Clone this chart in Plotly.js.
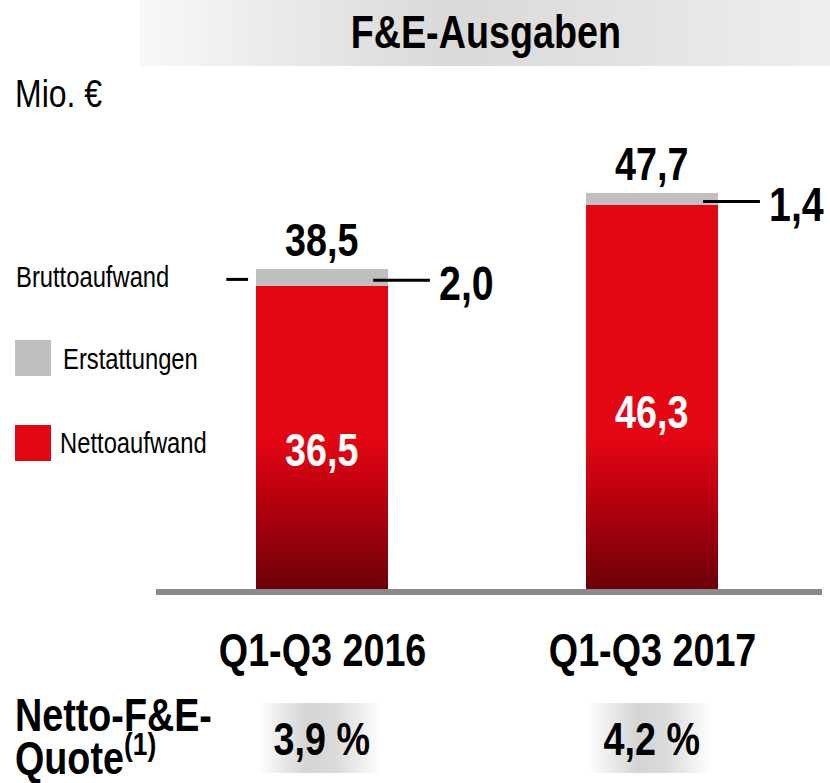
<!DOCTYPE html>
<html>
<head>
<meta charset="utf-8">
<script src="https://cdn.plot.ly/plotly-3.0.1.min.js"></script>
<style>
  html, body { margin: 0; padding: 0; background: #fff; }
  #chart { width: 830px; height: 783px; }
</style>
</head>
<body>
<div id="chart"></div>
<script>
// ---- data ----
const categories = ['Q1-Q3 2016', 'Q1-Q3 2017'];
const nettoaufwand = [36.5, 46.3];
const erstattungen = [2.0, 1.4];
const bruttoaufwand = [38.5, 47.7];
const quoteLabels = ['3,9 %', '4,2 %'];
const legendNames = ['Erstattungen', 'Nettoaufwand'];

const W = 830, H = 783;
const FONT = 'Liberation Sans, Arial, sans-serif';
const NARROW = 0.82;
const RED = '#e30613', GRAY = '#bfbfbf';
const fmt = v => v.toFixed(1).replace('.', ',');
const px = x => x / W;
const py = y => 1 - y / H;
const xIdx = categories.map((c, i) => i);

const traces = [
  { type: 'bar', x: xIdx, y: nettoaufwand, name: legendNames[1], width: 0.4,
    marker: { color: RED }, hoverinfo: 'none' },
  { type: 'bar', x: xIdx, y: erstattungen, name: legendNames[0], width: 0.4,
    marker: { color: GRAY }, hoverinfo: 'none' }
];

const annotations = [];
const shapes = [];
const base = { showarrow: false, xanchor: 'center', yanchor: 'middle',
  font: { family: FONT, size: 46, color: '#000' } };

// title band + title
shapes.push({ type: 'rect', xref: 'paper', yref: 'paper', x0: px(140), x1: 1, y0: py(66), y1: 1,
  line: { width: 0 }, fillcolor: '#dedede', layer: 'below', name: 'band' });
annotations.push({ ...base, xref: 'paper', yref: 'paper', x: px(486), y: py(32), text: '<b>F&E-Ausgaben</b>' });
annotations.push({ ...base, xref: 'paper', yref: 'paper', x: px(13), y: py(93), xanchor: 'left',
  text: 'Mio. €', font: { family: FONT, size: 39, color: '#000' } });

// legend
const legFont = { family: FONT, size: 29, color: '#000' };
annotations.push({ ...base, xref: 'paper', yref: 'paper', x: px(14), y: py(277), xanchor: 'left', text: 'Bruttoaufwand', font: legFont });
shapes.push({ type: 'rect', xref: 'paper', yref: 'paper', x0: px(15), x1: px(51), y0: py(376), y1: py(340), line: { width: 0 }, fillcolor: GRAY });
annotations.push({ ...base, xref: 'paper', yref: 'paper', x: px(61), y: py(359), xanchor: 'left', text: legendNames[0], font: legFont });
shapes.push({ type: 'rect', xref: 'paper', yref: 'paper', x0: px(15), x1: px(51), y0: py(461), y1: py(425), line: { width: 0 }, fillcolor: RED });
annotations.push({ ...base, xref: 'paper', yref: 'paper', x: px(58), y: py(443), xanchor: 'left', text: legendNames[1], font: legFont });

// pointer line for Bruttoaufwand
shapes.push({ type: 'line', xref: 'x', yref: 'y', x0: -0.29, x1: -0.224,
  y0: nettoaufwand[0] + erstattungen[0] / 2 - 0.2, y1: nettoaufwand[0] + erstattungen[0] / 2 - 0.2,
  line: { color: '#000', width: 3 } });

categories.forEach((c, i) => {
  // totals
  annotations.push({ ...base, x: i, y: bruttoaufwand[i], yanchor: 'bottom', yshift: 1, text: '<b>' + fmt(bruttoaufwand[i]) + '</b>' });
  // netto inside
  annotations.push({ ...base, x: i, y: nettoaufwand[i] * 0.46, text: '<b>' + fmt(nettoaufwand[i]) + '</b>',
    font: { family: FONT, size: 46, color: '#fff' } });
  // erstattungen pointer + label
  const gy = nettoaufwand[i] + erstattungen[i] / 2 - 0.3;
  shapes.push({ type: 'line', xref: 'x', yref: 'y', x0: i + 0.155, x1: i + 0.327, y0: gy, y1: gy,
    line: { color: '#000', width: 3 } });
  annotations.push({ ...base, x: i + 0.348, y: gy, xanchor: 'left', yshift: -3, text: '<b>' + fmt(erstattungen[i]) + '</b>',
    font: { family: FONT, size: 48, color: '#000' } });
  // category label
  annotations.push({ ...base, x: i, yref: 'paper', y: py(650), text: '<b>' + c + '</b>' });
  // quote box + label
  shapes.push({ type: 'rect', xref: 'x', yref: 'paper', x0: i - 0.195, x1: i + 0.18, y0: py(773), y1: py(703),
    line: { width: 0 }, fillcolor: '#dcdcdc', layer: 'below', name: 'qbox' });
  annotations.push({ ...base, x: i, yref: 'paper', y: py(739), text: '<b>' + quoteLabels[i] + '</b>' });
});

annotations.push({ ...base, xref: 'paper', yref: 'paper', x: px(13), y: py(715), xanchor: 'left',
  text: '<b>Netto-F&E-</b>' });
annotations.push({ ...base, xref: 'paper', yref: 'paper', x: px(13), y: py(755), xanchor: 'left',
  text: '<b>Quote<sup>(1)</sup></b>' });

// baseline
shapes.push({ type: 'line', xref: 'paper', yref: 'paper', x0: px(156), x1: px(822), y0: py(592), y1: py(592),
  line: { color: '#8a8a8a', width: 6 } });

const layout = {
  width: W, height: H,
  margin: { l: 0, r: 0, t: 0, b: 0, pad: 0 },
  paper_bgcolor: '#fff', plot_bgcolor: 'rgba(0,0,0,0)',
  barmode: 'stack', showlegend: false,
  xaxis: { range: [-322 / 330, (W - 322) / 330], visible: false, fixedrange: true },
  yaxis: { range: [-(H - 589) / 8.3, 589 / 8.3], visible: false, fixedrange: true },
  shapes, annotations,
  font: { family: FONT }
};

Plotly.newPlot('chart', traces, layout, { staticPlot: true, displayModeBar: false }).then(gd => {
  const NS = 'http://www.w3.org/2000/svg';
  const svg = gd.querySelector('.main-svg');
  let defs = svg.querySelector('defs');
  if (!defs) { defs = document.createElementNS(NS, 'defs'); svg.insertBefore(defs, svg.firstChild); }
  function grad(id, attrs, stops) {
    const g = document.createElementNS(NS, 'linearGradient');
    g.setAttribute('id', id);
    Object.entries(attrs).forEach(([k, v]) => g.setAttribute(k, v));
    stops.forEach(([o, c]) => {
      const s = document.createElementNS(NS, 'stop');
      s.setAttribute('offset', o); s.setAttribute('stop-color', c);
      g.appendChild(s);
    });
    defs.appendChild(g);
  }
  const ya = gd._fullLayout.yaxis;
  grad('redGrad', { gradientUnits: 'userSpaceOnUse', x1: 0, x2: 0, y1: ya.l2p(18), y2: ya.l2p(0) },
    [['0', RED], ['0.45', '#b2000f'], ['1', '#6c0008']]);
  grad('bandGrad', { x1: 0, x2: 1, y1: 0, y2: 0 },
    [['0', '#f8f8f8'], ['0.45', '#d9d9d9'], ['0.7', '#e2e2e2'], ['1', '#efefef']]);
  grad('qGrad', { x1: 0, x2: 1, y1: 0, y2: 0 },
    [['0', '#ffffff'], ['0.4', '#d4d4d4'], ['0.65', '#dcdcdc'], ['1', '#ffffff']]);
  const redTrace = gd.querySelectorAll('.barlayer .trace')[0];
  redTrace.querySelectorAll('path').forEach(p => { p.style.fill = 'url(#redGrad)'; });
  const full = gd._fullLayout.shapes;
  gd.querySelectorAll('.shapelayer path').forEach(p => {
    const sh = full[+p.getAttribute('data-index')];
    if (!sh) return;
    if (sh.name === 'band') p.style.fill = 'url(#bandGrad)';
    if (sh.name === 'qbox') p.style.fill = 'url(#qGrad)';
  });
  // narrow the text horizontally (Arial Narrow look)
  const fullAnn = gd._fullLayout.annotations;
  gd.querySelectorAll('.annotation').forEach(a => {
    const ann = fullAnn[+a.getAttribute('data-index')];
    const t = a.querySelector('text.annotation-text');
    if (!ann || !t) return;
    const bb = t.getBBox();
    const ax = ann.xanchor === 'left' ? bb.x : bb.x + bb.width / 2;
    const prev = t.getAttribute('transform') || '';
    t.setAttribute('transform', prev + ` translate(${ax} 0) scale(${NARROW} 1) translate(${-ax} 0)`);
  });
});
</script>
</body>
</html>
